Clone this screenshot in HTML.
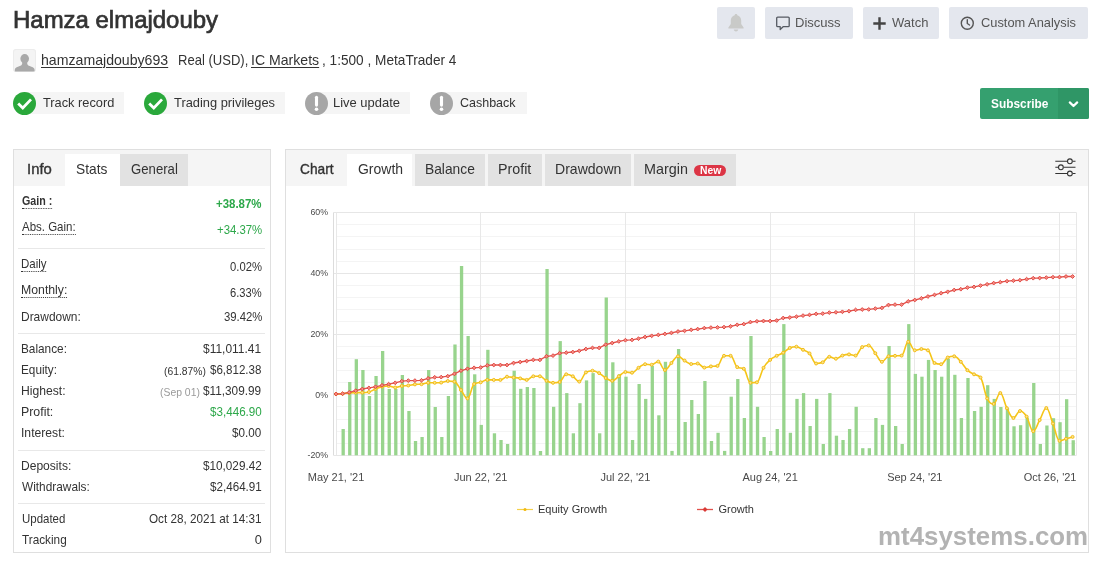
<!DOCTYPE html>
<html lang="en">
<head>
<meta charset="utf-8">
<title>Hamza elmajdouby</title>
<style>
html,body{margin:0;padding:0;background:#fff;}
body{width:1101px;height:561px;position:relative;overflow:hidden;font-family:"Liberation Sans",sans-serif;color:#333;}
.abs{position:absolute;white-space:nowrap;}
.t{position:absolute;white-space:nowrap;line-height:normal;margin:0;padding:0;transform-origin:0 0;}
.ul{text-decoration:underline;text-decoration-thickness:1px;text-underline-offset:2px;}
.dot{border-bottom:1px dotted #333;}
.avatar{position:absolute;left:13px;top:49px;width:23px;height:23px;background:#f4f4f4;border-radius:3px;overflow:hidden;box-shadow:inset 0 0 0 1px #ececec;}
.badge{position:absolute;top:92.2px;height:22.2px;background:#f5f5f5;}
.ic{position:absolute;top:91.7px;width:23px;height:23px;border-radius:50%;}
.btn{position:absolute;top:7px;height:31.5px;background:#e4e7ee;border-radius:2px;}
.panel{position:absolute;border:1px solid #dfdfdf;background:#fff;box-sizing:border-box;}
.thead{position:absolute;left:0;top:0;right:0;height:36px;background:#f5f5f5;}
.tab{position:absolute;top:154px;height:32px;}
.tab.g{background:#e2e2e2;}
.tab.w{background:#fff;}
.sep{position:absolute;left:18px;width:247px;height:1px;background:#e8e8e8;}
.yl{font-family:"Liberation Sans",sans-serif;font-size:8.8px;fill:#4a4a4a;}
.xl{font-family:"Liberation Sans",sans-serif;font-size:11px;fill:#4a4a4a;}
</style>
</head>
<body>

<div class="avatar">
<svg width="23" height="23" viewBox="0 0 23 23"><ellipse cx="11.700" cy="9.800" rx="4.300" ry="4.700" fill="#a9a9a9"/><path d="M1.800 22.600v-1.600c0-1.800 1.200-2.400 3.200-3.200c2.600-1 4.200-1.400 4.200-3.200v-1.600h5v1.600c0 1.800 1.600 2.200 4.200 3.200c2 0.800 3.200 1.400 3.200 3.200v1.600z" fill="#a9a9a9"/></svg>
</div>

<!-- badges -->
<div class="badge" style="left:24px;width:99.500px;"></div>
<div class="badge" style="left:155px;width:130px;"></div>
<div class="badge" style="left:316px;width:94.300px;"></div>
<div class="badge" style="left:441px;width:85.800px;"></div>
<div class="ic" style="left:13.200px;background:#2aa83b"><svg width="23" height="23" viewBox="0 0 23 23"><path d="M5.200 11.400l4.600 4.600l8.200-8.600" fill="none" stroke="#fff" stroke-width="2.800" stroke-linecap="butt" stroke-linejoin="miter"/></svg></div>
<div class="ic" style="left:144.200px;background:#2aa83b"><svg width="23" height="23" viewBox="0 0 23 23"><path d="M5.200 11.400l4.600 4.600l8.200-8.600" fill="none" stroke="#fff" stroke-width="2.800" stroke-linecap="butt" stroke-linejoin="miter"/></svg></div>
<div class="ic" style="left:305px;background:#a6a6a6"><svg width="23" height="23" viewBox="0 0 23 23"><path d="M11.500 5.300v7.800" stroke="#fff" stroke-width="3.100" stroke-linecap="round"/><circle cx="11.500" cy="17.300" r="1.800" fill="#fff"/></svg></div>
<div class="ic" style="left:430px;background:#a6a6a6"><svg width="23" height="23" viewBox="0 0 23 23"><path d="M11.500 5.300v7.800" stroke="#fff" stroke-width="3.100" stroke-linecap="round"/><circle cx="11.500" cy="17.300" r="1.800" fill="#fff"/></svg></div>

<!-- top buttons -->
<div class="btn" style="left:717.300px;width:37.500px;"><svg class="abs" style="left:9.500px;top:5.500px" width="18" height="20" viewBox="0 0 18 20"><path d="M9 1c-0.800 0-1.300 0.500-1.300 1.200c-2.500 0.600-3.900 2.700-3.900 5.300v3.500l-2.400 3.600v0.900h15.200v-0.900l-2.400-3.600v-3.500c0-2.600-1.400-4.700-3.900-5.300c0-0.700-0.500-1.200-1.300-1.200z" fill="#c9cac8"/><path d="M6.800 16.600h4.400c0 1.100-0.900 1.900-2.200 1.900s-2.200-0.800-2.200-1.900z" fill="#c9cac8"/></svg></div>
<div class="btn" style="left:765px;width:88px;"><svg class="abs" style="left:10.300px;top:8.800px" width="16" height="15" viewBox="0 0 16 15"><path d="M2.700 1.100h10.500a1 1 0 0 1 1 1v7.600a1 1 0 0 1-1 1h-5.100l-2.900 2.800v-2.800h-2.500a1 1 0 0 1-1-1v-7.600a1 1 0 0 1 1-1z" fill="none" stroke="#555a62" stroke-width="1.300" stroke-linejoin="round"/></svg></div>
<div class="btn" style="left:863px;width:75.800px;"><svg class="abs" style="left:10px;top:9.600px" width="13" height="13" viewBox="0 0 13 13"><path d="M6.500 0.300v12.400M0.300 6.500h12.400" stroke="#444" stroke-width="2.400"/></svg></div>
<div class="btn" style="left:949px;width:138.700px;"><svg class="abs" style="left:11px;top:8.700px" width="15" height="15" viewBox="0 0 15 15"><circle cx="7.300" cy="7.300" r="6" fill="none" stroke="#555" stroke-width="1.400"/><path d="M7.300 3.800v3.700l2.200 1.500" fill="none" stroke="#555" stroke-width="1.400" stroke-linecap="round"/></svg></div>

<!-- subscribe -->
<div class="abs" style="left:980px;top:88px;width:108.700px;height:30.800px;background:#35a06f;border-radius:2px;overflow:hidden;">
  <div class="abs" style="left:78px;top:0;width:31px;height:31px;background:#2f9666;"></div>
  <svg class="abs" style="left:87px;top:11.500px" width="13" height="9" viewBox="0 0 13 9"><path d="M2.800 2.400l3.700 3.600l3.700-3.600" fill="none" stroke="#fff" stroke-width="2.200" stroke-linecap="round" stroke-linejoin="round"/></svg>
</div>

<!-- left panel -->
<div class="panel" style="left:13px;top:149px;width:258px;height:404px;"><div class="thead"></div></div>
<div class="tab w" style="left:65px;width:55px;"></div>
<div class="tab g" style="left:120px;width:68px;"></div>
<div class="sep" style="top:248px"></div>
<div class="sep" style="top:333px"></div>
<div class="sep" style="top:450px"></div>
<div class="sep" style="top:503px"></div>

<!-- right panel -->
<div class="panel" style="left:285px;top:149px;width:804px;height:404px;"><div class="thead"></div></div>
<div class="tab w" style="left:346.800px;width:65.600px;"></div>
<div class="tab g" style="left:415px;width:70.300px;"></div>
<div class="tab g" style="left:488px;width:54.100px;"></div>
<div class="tab g" style="left:545.200px;width:85.800px;"></div>
<div class="tab g" style="left:634.100px;width:101.800px;"></div>
<div class="abs" style="left:694.100px;top:164.900px;width:32px;height:11px;border-radius:5.500px;background:#dc3545;"></div>
<svg class="abs" style="left:1054px;top:157px" width="23" height="21" viewBox="0 0 23 21"><g fill="none" stroke="#333" stroke-width="1.100"><path d="M1.300 4.300h11.700M18.800 4.300h2.700M1.300 10.300h2.700M9.800 10.300h11.700M1.300 16.500h11.700M18.800 16.500h2.700"/><circle cx="15.900" cy="4.300" r="2.400"/><circle cx="6.900" cy="10.300" r="2.400"/><circle cx="15.900" cy="16.500" r="2.400"/></g></svg>

<svg class="abs" style="left:0;top:0;pointer-events:none" width="1101" height="561" viewBox="0 0 1101 561">
<line x1="333.5" x2="1076.5" y1="455.5" y2="455.5" stroke="#e6e6e6" stroke-width="1"/>
<line x1="336.5" x2="1076.5" y1="443.5" y2="443.5" stroke="#f4f4f4" stroke-width="1"/>
<line x1="336.5" x2="1076.5" y1="431.5" y2="431.5" stroke="#f4f4f4" stroke-width="1"/>
<line x1="336.5" x2="1076.5" y1="419.5" y2="419.5" stroke="#f4f4f4" stroke-width="1"/>
<line x1="336.5" x2="1076.5" y1="406.5" y2="406.5" stroke="#f4f4f4" stroke-width="1"/>
<line x1="333.5" x2="1076.5" y1="394.5" y2="394.5" stroke="#e6e6e6" stroke-width="1"/>
<line x1="336.5" x2="1076.5" y1="382.5" y2="382.5" stroke="#f4f4f4" stroke-width="1"/>
<line x1="336.5" x2="1076.5" y1="370.5" y2="370.5" stroke="#f4f4f4" stroke-width="1"/>
<line x1="336.5" x2="1076.5" y1="358.5" y2="358.5" stroke="#f4f4f4" stroke-width="1"/>
<line x1="336.5" x2="1076.5" y1="346.5" y2="346.5" stroke="#f4f4f4" stroke-width="1"/>
<line x1="333.5" x2="1076.5" y1="334.5" y2="334.5" stroke="#e6e6e6" stroke-width="1"/>
<line x1="336.5" x2="1076.5" y1="321.5" y2="321.5" stroke="#f4f4f4" stroke-width="1"/>
<line x1="336.5" x2="1076.5" y1="309.5" y2="309.5" stroke="#f4f4f4" stroke-width="1"/>
<line x1="336.5" x2="1076.5" y1="297.5" y2="297.5" stroke="#f4f4f4" stroke-width="1"/>
<line x1="336.5" x2="1076.5" y1="285.5" y2="285.5" stroke="#f4f4f4" stroke-width="1"/>
<line x1="333.5" x2="1076.5" y1="273.5" y2="273.5" stroke="#e6e6e6" stroke-width="1"/>
<line x1="336.5" x2="1076.5" y1="261.5" y2="261.5" stroke="#f4f4f4" stroke-width="1"/>
<line x1="336.5" x2="1076.5" y1="249.5" y2="249.5" stroke="#f4f4f4" stroke-width="1"/>
<line x1="336.5" x2="1076.5" y1="236.5" y2="236.5" stroke="#f4f4f4" stroke-width="1"/>
<line x1="336.5" x2="1076.5" y1="224.5" y2="224.5" stroke="#f4f4f4" stroke-width="1"/>
<line x1="333.5" x2="1076.5" y1="212.5" y2="212.5" stroke="#e6e6e6" stroke-width="1"/>
<line x1="336.5" x2="336.5" y1="212.5" y2="455.3" stroke="#e8e8e8" stroke-width="1"/>
<line x1="480.5" x2="480.5" y1="212.5" y2="455.3" stroke="#e8e8e8" stroke-width="1"/>
<line x1="625.5" x2="625.5" y1="212.5" y2="455.3" stroke="#e8e8e8" stroke-width="1"/>
<line x1="770.5" x2="770.5" y1="212.5" y2="455.3" stroke="#e8e8e8" stroke-width="1"/>
<line x1="914.5" x2="914.5" y1="212.5" y2="455.3" stroke="#e8e8e8" stroke-width="1"/>
<line x1="1059.5" x2="1059.5" y1="212.5" y2="455.3" stroke="#e8e8e8" stroke-width="1"/>
<line x1="333.5" x2="333.5" y1="212.5" y2="455.3" stroke="#dcdcdc" stroke-width="1"/>
<line x1="1076.5" x2="1076.5" y1="212.5" y2="455.3" stroke="#e8e8e8" stroke-width="1"/>
<g fill="#8fd083" fill-opacity="0.92"><rect x="341.53" y="429.0" width="3.3" height="26.3"/><rect x="348.10" y="382.0" width="3.3" height="73.3"/><rect x="354.68" y="359.2" width="3.3" height="96.1"/><rect x="361.26" y="370.0" width="3.3" height="85.3"/><rect x="367.83" y="396.0" width="3.3" height="59.3"/><rect x="374.41" y="376.0" width="3.3" height="79.3"/><rect x="380.99" y="351.0" width="3.3" height="104.3"/><rect x="387.57" y="389.0" width="3.3" height="66.3"/><rect x="394.14" y="389.0" width="3.3" height="66.3"/><rect x="400.72" y="375.0" width="3.3" height="80.3"/><rect x="407.30" y="411.0" width="3.3" height="44.3"/><rect x="413.87" y="441.0" width="3.3" height="14.3"/><rect x="420.45" y="437.0" width="3.3" height="18.3"/><rect x="427.03" y="370.0" width="3.3" height="85.3"/><rect x="433.60" y="407.0" width="3.3" height="48.3"/><rect x="440.18" y="437.0" width="3.3" height="18.3"/><rect x="446.76" y="396.0" width="3.3" height="59.3"/><rect x="453.34" y="344.5" width="3.3" height="110.8"/><rect x="459.91" y="266.0" width="3.3" height="189.3"/><rect x="466.49" y="336.0" width="3.3" height="119.3"/><rect x="473.07" y="374.3" width="3.3" height="81.0"/><rect x="479.64" y="424.9" width="3.3" height="30.4"/><rect x="486.22" y="349.8" width="3.3" height="105.5"/><rect x="492.80" y="433.3" width="3.3" height="22.0"/><rect x="499.38" y="440.0" width="3.3" height="15.3"/><rect x="505.95" y="444.0" width="3.3" height="11.3"/><rect x="512.53" y="370.7" width="3.3" height="84.6"/><rect x="519.11" y="388.8" width="3.3" height="66.5"/><rect x="525.68" y="387.0" width="3.3" height="68.3"/><rect x="532.26" y="388.0" width="3.3" height="67.3"/><rect x="538.84" y="451.0" width="3.3" height="4.3"/><rect x="545.41" y="269.0" width="3.3" height="186.3"/><rect x="551.99" y="406.8" width="3.3" height="48.5"/><rect x="558.57" y="341.1" width="3.3" height="114.2"/><rect x="565.14" y="393.1" width="3.3" height="62.2"/><rect x="571.72" y="433.3" width="3.3" height="22.0"/><rect x="578.30" y="403.2" width="3.3" height="52.1"/><rect x="584.88" y="380.4" width="3.3" height="74.9"/><rect x="591.45" y="373.1" width="3.3" height="82.2"/><rect x="598.03" y="433.3" width="3.3" height="22.0"/><rect x="604.61" y="297.5" width="3.3" height="157.8"/><rect x="611.18" y="362.3" width="3.3" height="93.0"/><rect x="617.76" y="374.3" width="3.3" height="81.0"/><rect x="624.34" y="376.7" width="3.3" height="78.6"/><rect x="630.91" y="440.0" width="3.3" height="15.3"/><rect x="637.49" y="384.0" width="3.3" height="71.3"/><rect x="644.07" y="398.9" width="3.3" height="56.4"/><rect x="650.65" y="365.9" width="3.3" height="89.4"/><rect x="657.22" y="415.3" width="3.3" height="40.0"/><rect x="663.80" y="361.8" width="3.3" height="93.5"/><rect x="670.38" y="450.9" width="3.3" height="4.4"/><rect x="676.95" y="349.0" width="3.3" height="106.3"/><rect x="683.53" y="422.0" width="3.3" height="33.3"/><rect x="690.11" y="400.0" width="3.3" height="55.3"/><rect x="696.69" y="414.0" width="3.3" height="41.3"/><rect x="703.26" y="381.0" width="3.3" height="74.3"/><rect x="709.84" y="441.0" width="3.3" height="14.3"/><rect x="716.42" y="432.8" width="3.3" height="22.5"/><rect x="722.99" y="450.9" width="3.3" height="4.4"/><rect x="729.57" y="396.7" width="3.3" height="58.6"/><rect x="736.15" y="379.0" width="3.3" height="76.3"/><rect x="742.72" y="418.0" width="3.3" height="37.3"/><rect x="749.30" y="336.0" width="3.3" height="119.3"/><rect x="755.88" y="406.8" width="3.3" height="48.5"/><rect x="762.46" y="437.0" width="3.3" height="18.3"/><rect x="769.03" y="451.0" width="3.3" height="4.3"/><rect x="775.61" y="429.0" width="3.3" height="26.3"/><rect x="782.19" y="324.1" width="3.3" height="131.2"/><rect x="788.76" y="432.8" width="3.3" height="22.5"/><rect x="795.34" y="398.9" width="3.3" height="56.4"/><rect x="801.92" y="393.1" width="3.3" height="62.2"/><rect x="808.49" y="426.0" width="3.3" height="29.3"/><rect x="815.07" y="398.9" width="3.3" height="56.4"/><rect x="821.65" y="444.0" width="3.3" height="11.3"/><rect x="828.23" y="393.1" width="3.3" height="62.2"/><rect x="834.80" y="435.7" width="3.3" height="19.6"/><rect x="841.38" y="440.0" width="3.3" height="15.3"/><rect x="847.96" y="429.0" width="3.3" height="26.3"/><rect x="854.53" y="406.8" width="3.3" height="48.5"/><rect x="861.11" y="448.2" width="3.3" height="7.1"/><rect x="867.69" y="448.2" width="3.3" height="7.1"/><rect x="874.26" y="418.0" width="3.3" height="37.3"/><rect x="880.84" y="424.9" width="3.3" height="30.4"/><rect x="887.42" y="346.0" width="3.3" height="109.3"/><rect x="894.00" y="426.0" width="3.3" height="29.3"/><rect x="900.57" y="444.0" width="3.3" height="11.3"/><rect x="907.15" y="324.1" width="3.3" height="131.2"/><rect x="913.73" y="373.9" width="3.3" height="81.4"/><rect x="920.30" y="376.7" width="3.3" height="78.6"/><rect x="926.88" y="359.9" width="3.3" height="95.4"/><rect x="933.46" y="370.0" width="3.3" height="85.3"/><rect x="940.03" y="376.7" width="3.3" height="78.6"/><rect x="946.61" y="358.7" width="3.3" height="96.6"/><rect x="953.19" y="374.8" width="3.3" height="80.5"/><rect x="959.76" y="418.0" width="3.3" height="37.3"/><rect x="966.34" y="378.0" width="3.3" height="77.3"/><rect x="972.92" y="411.0" width="3.3" height="44.3"/><rect x="979.50" y="406.8" width="3.3" height="48.5"/><rect x="986.07" y="385.2" width="3.3" height="70.1"/><rect x="992.65" y="398.9" width="3.3" height="56.4"/><rect x="999.23" y="407.0" width="3.3" height="48.3"/><rect x="1005.80" y="408.0" width="3.3" height="47.3"/><rect x="1012.38" y="426.3" width="3.3" height="29.0"/><rect x="1018.96" y="425.2" width="3.3" height="30.1"/><rect x="1025.54" y="417.5" width="3.3" height="37.8"/><rect x="1032.11" y="383.0" width="3.3" height="72.3"/><rect x="1038.69" y="444.0" width="3.3" height="11.3"/><rect x="1045.27" y="425.5" width="3.3" height="29.8"/><rect x="1051.84" y="418.2" width="3.3" height="37.1"/><rect x="1058.42" y="422.2" width="3.3" height="33.1"/><rect x="1065.00" y="399.2" width="3.3" height="56.1"/><rect x="1071.57" y="440.2" width="3.3" height="15.1"/></g>
<path d="M336.0 394.0C336.0 394.0 339.9 393.9 342.6 393.7C345.2 393.5 346.5 393.1 349.2 392.9C351.8 392.7 353.1 392.6 355.7 392.6C358.4 392.6 359.7 392.6 362.3 392.6C364.9 392.6 366.3 392.6 368.9 392.0C371.5 391.4 372.8 390.1 375.5 389.0C378.1 387.9 379.4 387.2 382.0 386.6C384.7 386.0 386.0 386.0 388.6 386.0C391.2 386.0 392.6 387.5 395.2 387.5C397.8 387.5 399.1 386.4 401.8 386.0C404.4 385.6 405.7 385.8 408.3 385.5C411.0 385.2 412.3 384.6 414.9 384.4C417.6 384.2 418.9 384.4 421.5 384.2C424.1 384.0 425.4 382.8 428.1 382.8C430.7 382.8 432.0 382.8 434.7 382.8C437.3 382.8 438.6 382.8 441.2 382.6C443.9 382.4 445.2 381.0 447.8 381.0C450.4 381.0 451.8 381.0 454.4 381.6C457.0 382.2 458.3 386.6 461.0 390.0C463.6 393.4 464.9 398.4 467.5 398.4C470.2 398.4 471.5 385.7 474.1 384.0C476.7 382.3 478.1 383.1 480.7 382.3C483.3 381.5 484.6 379.9 487.3 379.9C489.9 379.9 491.2 379.9 493.8 379.9C496.5 379.9 497.8 379.9 500.4 379.9C503.1 379.9 504.4 376.7 507.0 376.7C509.6 376.7 510.9 377.2 513.6 377.5C516.2 377.8 517.5 377.9 520.2 378.4C522.8 378.9 524.1 379.9 526.7 379.9C529.4 379.9 530.7 376.3 533.3 376.3C535.9 376.3 537.3 376.3 539.9 376.3C542.5 376.3 543.8 379.5 546.5 380.8C549.1 382.1 550.4 382.8 553.0 382.8C555.7 382.8 557.0 382.8 559.6 382.0C562.2 381.2 563.6 374.3 566.2 374.3C568.8 374.3 570.1 374.8 572.8 376.3C575.4 377.8 576.7 381.6 579.3 381.6C582.0 381.6 583.3 374.1 585.9 372.4C588.6 370.7 589.9 370.7 592.5 370.7C595.1 370.7 596.4 371.6 599.1 373.1C601.7 374.6 603.0 376.5 605.7 378.0C608.3 379.5 609.6 380.8 612.2 380.8C614.9 380.8 616.2 378.1 618.8 376.3C621.4 374.5 622.8 372.0 625.4 372.0C628.0 372.0 629.3 372.7 632.0 372.7C634.6 372.7 635.9 369.5 638.5 367.8C641.2 366.1 642.5 364.2 645.1 364.2C647.7 364.2 649.1 364.7 651.7 364.7C654.3 364.7 655.6 361.6 658.3 361.6C660.9 361.6 662.2 370.0 664.9 370.0C667.5 370.0 668.8 365.7 671.4 363.0C674.1 360.3 675.4 356.3 678.0 356.3C680.6 356.3 682.0 359.1 684.6 360.6C687.2 362.1 688.5 364.0 691.2 364.0C693.8 364.0 695.1 363.5 697.7 363.5C700.4 363.5 701.7 367.6 704.3 367.6C706.9 367.6 708.3 366.7 710.9 366.4C713.5 366.1 714.8 366.4 717.5 365.9C720.1 365.4 721.4 355.8 724.0 355.8C726.7 355.8 728.0 355.8 730.6 355.8C733.3 355.8 734.6 365.4 737.2 367.1C739.8 368.8 741.1 367.1 743.8 368.8C746.4 370.5 747.7 382.8 750.4 382.8C753.0 382.8 754.3 382.8 756.9 382.3C759.6 381.8 760.9 372.3 763.5 367.8C766.1 363.3 767.5 362.3 770.1 359.9C772.7 357.5 774.0 357.2 776.7 355.8C779.3 354.4 780.6 354.3 783.2 352.7C785.9 351.1 787.2 349.1 789.8 347.9C792.4 346.7 793.8 346.7 796.4 346.7C799.0 346.7 800.3 348.5 803.0 349.8C805.6 351.1 806.9 350.7 809.5 353.4C812.2 356.1 813.5 363.5 816.1 363.5C818.8 363.5 820.1 363.5 822.7 362.3C825.3 361.1 826.6 356.8 829.3 356.8C831.9 356.8 833.2 358.7 835.9 358.7C838.5 358.7 839.8 356.5 842.4 355.6C845.1 354.7 846.4 354.4 849.0 354.4C851.6 354.4 853.0 355.6 855.6 355.6C858.2 355.6 859.5 348.7 862.2 347.1C864.8 345.5 866.1 345.5 868.7 345.5C871.4 345.5 872.7 349.9 875.3 353.2C877.9 356.5 879.3 361.8 881.9 361.8C884.5 361.8 885.8 356.8 888.5 356.3C891.1 355.8 892.4 355.9 895.0 355.8C897.7 355.7 899.0 355.8 901.6 355.6C904.3 355.4 905.6 341.8 908.2 341.8C910.8 341.8 912.1 350.3 914.8 350.3C917.4 350.3 918.7 349.0 921.4 349.0C924.0 349.0 925.3 349.0 927.9 350.3C930.6 351.6 931.9 361.8 934.5 363.0C937.1 364.2 938.5 364.2 941.1 364.2C943.7 364.2 945.0 358.7 947.7 357.5C950.3 356.3 951.6 356.3 954.2 356.3C956.9 356.3 958.2 359.0 960.8 361.8C963.4 364.6 964.8 367.7 967.4 370.2C970.0 372.7 971.3 372.8 974.0 374.3C976.6 375.8 977.9 374.3 980.5 377.5C983.2 380.7 984.5 393.1 987.1 398.4C989.8 403.7 991.1 403.9 993.7 403.9C996.3 403.9 997.6 393.0 1000.3 393.0C1002.9 393.0 1004.2 403.2 1006.9 408.2C1009.5 413.2 1010.8 418.0 1013.4 418.0C1016.1 418.0 1017.4 411.0 1020.0 411.0C1022.6 411.0 1024.0 412.6 1026.6 416.6C1029.2 420.6 1030.5 431.2 1033.2 431.2C1035.8 431.2 1037.1 424.6 1039.7 420.0C1042.4 415.4 1043.7 408.0 1046.3 408.0C1048.9 408.0 1050.3 416.9 1052.9 423.5C1055.5 430.1 1056.8 440.8 1059.5 440.8C1062.1 440.8 1063.4 439.6 1066.0 438.8C1068.7 438.0 1072.6 436.9 1072.6 436.9" fill="none" stroke="#f5c518" stroke-width="1.6" stroke-linejoin="round"/>
<g fill="#fbe38a" stroke="#f2b90f" stroke-width="0.9"><circle cx="336.0" cy="394.0" r="1.5"/><circle cx="342.6" cy="393.7" r="1.5"/><circle cx="349.2" cy="392.9" r="1.5"/><circle cx="355.7" cy="392.6" r="1.5"/><circle cx="362.3" cy="392.6" r="1.5"/><circle cx="368.9" cy="392.0" r="1.5"/><circle cx="375.5" cy="389.0" r="1.5"/><circle cx="382.0" cy="386.6" r="1.5"/><circle cx="388.6" cy="386.0" r="1.5"/><circle cx="395.2" cy="387.5" r="1.5"/><circle cx="401.8" cy="386.0" r="1.5"/><circle cx="408.3" cy="385.5" r="1.5"/><circle cx="414.9" cy="384.4" r="1.5"/><circle cx="421.5" cy="384.2" r="1.5"/><circle cx="428.1" cy="382.8" r="1.5"/><circle cx="434.7" cy="382.8" r="1.5"/><circle cx="441.2" cy="382.6" r="1.5"/><circle cx="447.8" cy="381.0" r="1.5"/><circle cx="454.4" cy="381.6" r="1.5"/><circle cx="461.0" cy="390.0" r="1.5"/><circle cx="467.5" cy="398.4" r="1.5"/><circle cx="474.1" cy="384.0" r="1.5"/><circle cx="480.7" cy="382.3" r="1.5"/><circle cx="487.3" cy="379.9" r="1.5"/><circle cx="493.8" cy="379.9" r="1.5"/><circle cx="500.4" cy="379.9" r="1.5"/><circle cx="507.0" cy="376.7" r="1.5"/><circle cx="513.6" cy="377.5" r="1.5"/><circle cx="520.2" cy="378.4" r="1.5"/><circle cx="526.7" cy="379.9" r="1.5"/><circle cx="533.3" cy="376.3" r="1.5"/><circle cx="539.9" cy="376.3" r="1.5"/><circle cx="546.5" cy="380.8" r="1.5"/><circle cx="553.0" cy="382.8" r="1.5"/><circle cx="559.6" cy="382.0" r="1.5"/><circle cx="566.2" cy="374.3" r="1.5"/><circle cx="572.8" cy="376.3" r="1.5"/><circle cx="579.3" cy="381.6" r="1.5"/><circle cx="585.9" cy="372.4" r="1.5"/><circle cx="592.5" cy="370.7" r="1.5"/><circle cx="599.1" cy="373.1" r="1.5"/><circle cx="605.7" cy="378.0" r="1.5"/><circle cx="612.2" cy="380.8" r="1.5"/><circle cx="618.8" cy="376.3" r="1.5"/><circle cx="625.4" cy="372.0" r="1.5"/><circle cx="632.0" cy="372.7" r="1.5"/><circle cx="638.5" cy="367.8" r="1.5"/><circle cx="645.1" cy="364.2" r="1.5"/><circle cx="651.7" cy="364.7" r="1.5"/><circle cx="658.3" cy="361.6" r="1.5"/><circle cx="664.9" cy="370.0" r="1.5"/><circle cx="671.4" cy="363.0" r="1.5"/><circle cx="678.0" cy="356.3" r="1.5"/><circle cx="684.6" cy="360.6" r="1.5"/><circle cx="691.2" cy="364.0" r="1.5"/><circle cx="697.7" cy="363.5" r="1.5"/><circle cx="704.3" cy="367.6" r="1.5"/><circle cx="710.9" cy="366.4" r="1.5"/><circle cx="717.5" cy="365.9" r="1.5"/><circle cx="724.0" cy="355.8" r="1.5"/><circle cx="730.6" cy="355.8" r="1.5"/><circle cx="737.2" cy="367.1" r="1.5"/><circle cx="743.8" cy="368.8" r="1.5"/><circle cx="750.4" cy="382.8" r="1.5"/><circle cx="756.9" cy="382.3" r="1.5"/><circle cx="763.5" cy="367.8" r="1.5"/><circle cx="770.1" cy="359.9" r="1.5"/><circle cx="776.7" cy="355.8" r="1.5"/><circle cx="783.2" cy="352.7" r="1.5"/><circle cx="789.8" cy="347.9" r="1.5"/><circle cx="796.4" cy="346.7" r="1.5"/><circle cx="803.0" cy="349.8" r="1.5"/><circle cx="809.5" cy="353.4" r="1.5"/><circle cx="816.1" cy="363.5" r="1.5"/><circle cx="822.7" cy="362.3" r="1.5"/><circle cx="829.3" cy="356.8" r="1.5"/><circle cx="835.9" cy="358.7" r="1.5"/><circle cx="842.4" cy="355.6" r="1.5"/><circle cx="849.0" cy="354.4" r="1.5"/><circle cx="855.6" cy="355.6" r="1.5"/><circle cx="862.2" cy="347.1" r="1.5"/><circle cx="868.7" cy="345.5" r="1.5"/><circle cx="875.3" cy="353.2" r="1.5"/><circle cx="881.9" cy="361.8" r="1.5"/><circle cx="888.5" cy="356.3" r="1.5"/><circle cx="895.0" cy="355.8" r="1.5"/><circle cx="901.6" cy="355.6" r="1.5"/><circle cx="908.2" cy="341.8" r="1.5"/><circle cx="914.8" cy="350.3" r="1.5"/><circle cx="921.4" cy="349.0" r="1.5"/><circle cx="927.9" cy="350.3" r="1.5"/><circle cx="934.5" cy="363.0" r="1.5"/><circle cx="941.1" cy="364.2" r="1.5"/><circle cx="947.7" cy="357.5" r="1.5"/><circle cx="954.2" cy="356.3" r="1.5"/><circle cx="960.8" cy="361.8" r="1.5"/><circle cx="967.4" cy="370.2" r="1.5"/><circle cx="974.0" cy="374.3" r="1.5"/><circle cx="980.5" cy="377.5" r="1.5"/><circle cx="987.1" cy="398.4" r="1.5"/><circle cx="993.7" cy="403.9" r="1.5"/><circle cx="1000.3" cy="393.0" r="1.5"/><circle cx="1006.9" cy="408.2" r="1.5"/><circle cx="1013.4" cy="418.0" r="1.5"/><circle cx="1020.0" cy="411.0" r="1.5"/><circle cx="1026.6" cy="416.6" r="1.5"/><circle cx="1033.2" cy="431.2" r="1.5"/><circle cx="1039.7" cy="420.0" r="1.5"/><circle cx="1046.3" cy="408.0" r="1.5"/><circle cx="1052.9" cy="423.5" r="1.5"/><circle cx="1059.5" cy="440.8" r="1.5"/><circle cx="1066.0" cy="438.8" r="1.5"/><circle cx="1072.6" cy="436.9" r="1.5"/></g>
<polyline points="336.0,394.0 342.6,393.7 349.2,392.4 355.7,390.7 362.3,389.0 368.9,387.9 375.5,386.8 382.0,385.3 388.6,384.2 395.2,382.8 401.8,381.2 408.3,380.6 414.9,380.6 421.5,380.3 428.1,378.4 434.7,377.3 441.2,377.1 447.8,376.2 454.4,373.9 461.0,370.7 467.5,368.8 474.1,367.8 480.7,367.4 487.3,365.4 493.8,365.0 500.4,365.0 507.0,365.0 513.6,363.0 520.2,362.0 526.7,361.0 533.3,359.9 539.9,359.9 546.5,356.3 553.0,355.6 559.6,353.2 566.2,352.7 572.8,352.0 579.3,350.8 585.9,349.0 592.5,347.9 599.1,347.9 605.7,344.7 612.2,343.0 618.8,341.4 625.4,340.2 632.0,339.9 638.5,338.7 645.1,337.0 651.7,335.8 658.3,334.9 664.9,333.9 671.4,332.9 678.0,331.5 684.6,330.8 691.2,329.8 697.7,329.1 704.3,328.1 710.9,327.6 717.5,327.4 724.0,327.1 730.6,326.3 737.2,324.8 743.8,324.1 750.4,322.1 756.9,321.3 763.5,321.0 770.1,321.0 776.7,320.5 783.2,318.0 789.8,317.5 796.4,316.7 803.0,315.6 809.5,314.9 816.1,313.9 822.7,313.6 829.3,312.6 835.9,312.3 842.4,311.8 849.0,311.2 855.6,309.9 862.2,309.5 868.7,309.4 875.3,308.6 881.9,307.9 888.5,305.0 895.0,304.6 901.6,304.6 908.2,301.4 914.8,300.0 921.4,298.3 927.9,296.5 934.5,294.9 941.1,293.2 947.7,291.8 954.2,290.0 960.8,289.2 967.4,287.6 974.0,286.9 980.5,285.6 987.1,284.3 993.7,283.1 1000.3,282.2 1006.9,281.2 1013.4,280.7 1020.0,280.2 1026.6,279.2 1033.2,278.2 1039.7,278.0 1046.3,277.6 1052.9,277.2 1059.5,277.1 1066.0,276.5 1072.6,276.5" fill="none" stroke="#e2514b" stroke-width="1.3" stroke-linejoin="round"/>
<g fill="#f58d85" stroke="#de3f3a" stroke-width="0.9"><path d="M336.0 392.1l1.9 1.9l-1.9 1.9l-1.9-1.9z"/><path d="M342.6 391.8l1.9 1.9l-1.9 1.9l-1.9-1.9z"/><path d="M349.2 390.5l1.9 1.9l-1.9 1.9l-1.9-1.9z"/><path d="M355.7 388.8l1.9 1.9l-1.9 1.9l-1.9-1.9z"/><path d="M362.3 387.1l1.9 1.9l-1.9 1.9l-1.9-1.9z"/><path d="M368.9 386.0l1.9 1.9l-1.9 1.9l-1.9-1.9z"/><path d="M375.5 384.9l1.9 1.9l-1.9 1.9l-1.9-1.9z"/><path d="M382.0 383.4l1.9 1.9l-1.9 1.9l-1.9-1.9z"/><path d="M388.6 382.3l1.9 1.9l-1.9 1.9l-1.9-1.9z"/><path d="M395.2 380.9l1.9 1.9l-1.9 1.9l-1.9-1.9z"/><path d="M401.8 379.3l1.9 1.9l-1.9 1.9l-1.9-1.9z"/><path d="M408.3 378.7l1.9 1.9l-1.9 1.9l-1.9-1.9z"/><path d="M414.9 378.7l1.9 1.9l-1.9 1.9l-1.9-1.9z"/><path d="M421.5 378.4l1.9 1.9l-1.9 1.9l-1.9-1.9z"/><path d="M428.1 376.5l1.9 1.9l-1.9 1.9l-1.9-1.9z"/><path d="M434.7 375.4l1.9 1.9l-1.9 1.9l-1.9-1.9z"/><path d="M441.2 375.2l1.9 1.9l-1.9 1.9l-1.9-1.9z"/><path d="M447.8 374.3l1.9 1.9l-1.9 1.9l-1.9-1.9z"/><path d="M454.4 372.0l1.9 1.9l-1.9 1.9l-1.9-1.9z"/><path d="M461.0 368.8l1.9 1.9l-1.9 1.9l-1.9-1.9z"/><path d="M467.5 366.9l1.9 1.9l-1.9 1.9l-1.9-1.9z"/><path d="M474.1 365.9l1.9 1.9l-1.9 1.9l-1.9-1.9z"/><path d="M480.7 365.5l1.9 1.9l-1.9 1.9l-1.9-1.9z"/><path d="M487.3 363.5l1.9 1.9l-1.9 1.9l-1.9-1.9z"/><path d="M493.8 363.1l1.9 1.9l-1.9 1.9l-1.9-1.9z"/><path d="M500.4 363.1l1.9 1.9l-1.9 1.9l-1.9-1.9z"/><path d="M507.0 363.1l1.9 1.9l-1.9 1.9l-1.9-1.9z"/><path d="M513.6 361.1l1.9 1.9l-1.9 1.9l-1.9-1.9z"/><path d="M520.2 360.1l1.9 1.9l-1.9 1.9l-1.9-1.9z"/><path d="M526.7 359.1l1.9 1.9l-1.9 1.9l-1.9-1.9z"/><path d="M533.3 358.0l1.9 1.9l-1.9 1.9l-1.9-1.9z"/><path d="M539.9 358.0l1.9 1.9l-1.9 1.9l-1.9-1.9z"/><path d="M546.5 354.4l1.9 1.9l-1.9 1.9l-1.9-1.9z"/><path d="M553.0 353.7l1.9 1.9l-1.9 1.9l-1.9-1.9z"/><path d="M559.6 351.3l1.9 1.9l-1.9 1.9l-1.9-1.9z"/><path d="M566.2 350.8l1.9 1.9l-1.9 1.9l-1.9-1.9z"/><path d="M572.8 350.1l1.9 1.9l-1.9 1.9l-1.9-1.9z"/><path d="M579.3 348.9l1.9 1.9l-1.9 1.9l-1.9-1.9z"/><path d="M585.9 347.1l1.9 1.9l-1.9 1.9l-1.9-1.9z"/><path d="M592.5 346.0l1.9 1.9l-1.9 1.9l-1.9-1.9z"/><path d="M599.1 346.0l1.9 1.9l-1.9 1.9l-1.9-1.9z"/><path d="M605.7 342.8l1.9 1.9l-1.9 1.9l-1.9-1.9z"/><path d="M612.2 341.1l1.9 1.9l-1.9 1.9l-1.9-1.9z"/><path d="M618.8 339.5l1.9 1.9l-1.9 1.9l-1.9-1.9z"/><path d="M625.4 338.3l1.9 1.9l-1.9 1.9l-1.9-1.9z"/><path d="M632.0 338.0l1.9 1.9l-1.9 1.9l-1.9-1.9z"/><path d="M638.5 336.8l1.9 1.9l-1.9 1.9l-1.9-1.9z"/><path d="M645.1 335.1l1.9 1.9l-1.9 1.9l-1.9-1.9z"/><path d="M651.7 333.9l1.9 1.9l-1.9 1.9l-1.9-1.9z"/><path d="M658.3 333.0l1.9 1.9l-1.9 1.9l-1.9-1.9z"/><path d="M664.9 332.0l1.9 1.9l-1.9 1.9l-1.9-1.9z"/><path d="M671.4 331.0l1.9 1.9l-1.9 1.9l-1.9-1.9z"/><path d="M678.0 329.6l1.9 1.9l-1.9 1.9l-1.9-1.9z"/><path d="M684.6 328.9l1.9 1.9l-1.9 1.9l-1.9-1.9z"/><path d="M691.2 327.9l1.9 1.9l-1.9 1.9l-1.9-1.9z"/><path d="M697.7 327.2l1.9 1.9l-1.9 1.9l-1.9-1.9z"/><path d="M704.3 326.2l1.9 1.9l-1.9 1.9l-1.9-1.9z"/><path d="M710.9 325.7l1.9 1.9l-1.9 1.9l-1.9-1.9z"/><path d="M717.5 325.5l1.9 1.9l-1.9 1.9l-1.9-1.9z"/><path d="M724.0 325.2l1.9 1.9l-1.9 1.9l-1.9-1.9z"/><path d="M730.6 324.4l1.9 1.9l-1.9 1.9l-1.9-1.9z"/><path d="M737.2 322.9l1.9 1.9l-1.9 1.9l-1.9-1.9z"/><path d="M743.8 322.2l1.9 1.9l-1.9 1.9l-1.9-1.9z"/><path d="M750.4 320.2l1.9 1.9l-1.9 1.9l-1.9-1.9z"/><path d="M756.9 319.4l1.9 1.9l-1.9 1.9l-1.9-1.9z"/><path d="M763.5 319.1l1.9 1.9l-1.9 1.9l-1.9-1.9z"/><path d="M770.1 319.1l1.9 1.9l-1.9 1.9l-1.9-1.9z"/><path d="M776.7 318.6l1.9 1.9l-1.9 1.9l-1.9-1.9z"/><path d="M783.2 316.1l1.9 1.9l-1.9 1.9l-1.9-1.9z"/><path d="M789.8 315.6l1.9 1.9l-1.9 1.9l-1.9-1.9z"/><path d="M796.4 314.8l1.9 1.9l-1.9 1.9l-1.9-1.9z"/><path d="M803.0 313.7l1.9 1.9l-1.9 1.9l-1.9-1.9z"/><path d="M809.5 313.0l1.9 1.9l-1.9 1.9l-1.9-1.9z"/><path d="M816.1 312.0l1.9 1.9l-1.9 1.9l-1.9-1.9z"/><path d="M822.7 311.7l1.9 1.9l-1.9 1.9l-1.9-1.9z"/><path d="M829.3 310.7l1.9 1.9l-1.9 1.9l-1.9-1.9z"/><path d="M835.9 310.4l1.9 1.9l-1.9 1.9l-1.9-1.9z"/><path d="M842.4 309.9l1.9 1.9l-1.9 1.9l-1.9-1.9z"/><path d="M849.0 309.3l1.9 1.9l-1.9 1.9l-1.9-1.9z"/><path d="M855.6 308.0l1.9 1.9l-1.9 1.9l-1.9-1.9z"/><path d="M862.2 307.6l1.9 1.9l-1.9 1.9l-1.9-1.9z"/><path d="M868.7 307.5l1.9 1.9l-1.9 1.9l-1.9-1.9z"/><path d="M875.3 306.7l1.9 1.9l-1.9 1.9l-1.9-1.9z"/><path d="M881.9 306.0l1.9 1.9l-1.9 1.9l-1.9-1.9z"/><path d="M888.5 303.1l1.9 1.9l-1.9 1.9l-1.9-1.9z"/><path d="M895.0 302.7l1.9 1.9l-1.9 1.9l-1.9-1.9z"/><path d="M901.6 302.7l1.9 1.9l-1.9 1.9l-1.9-1.9z"/><path d="M908.2 299.5l1.9 1.9l-1.9 1.9l-1.9-1.9z"/><path d="M914.8 298.1l1.9 1.9l-1.9 1.9l-1.9-1.9z"/><path d="M921.4 296.4l1.9 1.9l-1.9 1.9l-1.9-1.9z"/><path d="M927.9 294.6l1.9 1.9l-1.9 1.9l-1.9-1.9z"/><path d="M934.5 293.0l1.9 1.9l-1.9 1.9l-1.9-1.9z"/><path d="M941.1 291.3l1.9 1.9l-1.9 1.9l-1.9-1.9z"/><path d="M947.7 289.9l1.9 1.9l-1.9 1.9l-1.9-1.9z"/><path d="M954.2 288.1l1.9 1.9l-1.9 1.9l-1.9-1.9z"/><path d="M960.8 287.3l1.9 1.9l-1.9 1.9l-1.9-1.9z"/><path d="M967.4 285.7l1.9 1.9l-1.9 1.9l-1.9-1.9z"/><path d="M974.0 285.0l1.9 1.9l-1.9 1.9l-1.9-1.9z"/><path d="M980.5 283.7l1.9 1.9l-1.9 1.9l-1.9-1.9z"/><path d="M987.1 282.4l1.9 1.9l-1.9 1.9l-1.9-1.9z"/><path d="M993.7 281.2l1.9 1.9l-1.9 1.9l-1.9-1.9z"/><path d="M1000.3 280.3l1.9 1.9l-1.9 1.9l-1.9-1.9z"/><path d="M1006.9 279.3l1.9 1.9l-1.9 1.9l-1.9-1.9z"/><path d="M1013.4 278.8l1.9 1.9l-1.9 1.9l-1.9-1.9z"/><path d="M1020.0 278.3l1.9 1.9l-1.9 1.9l-1.9-1.9z"/><path d="M1026.6 277.3l1.9 1.9l-1.9 1.9l-1.9-1.9z"/><path d="M1033.2 276.3l1.9 1.9l-1.9 1.9l-1.9-1.9z"/><path d="M1039.7 276.1l1.9 1.9l-1.9 1.9l-1.9-1.9z"/><path d="M1046.3 275.7l1.9 1.9l-1.9 1.9l-1.9-1.9z"/><path d="M1052.9 275.3l1.9 1.9l-1.9 1.9l-1.9-1.9z"/><path d="M1059.5 275.2l1.9 1.9l-1.9 1.9l-1.9-1.9z"/><path d="M1066.0 274.6l1.9 1.9l-1.9 1.9l-1.9-1.9z"/><path d="M1072.6 274.6l1.9 1.9l-1.9 1.9l-1.9-1.9z"/></g>
<text x="328" y="215.4" text-anchor="end" class="yl">60%</text>
<text x="328" y="276.1" text-anchor="end" class="yl">40%</text>
<text x="328" y="336.8" text-anchor="end" class="yl">20%</text>
<text x="328" y="397.5" text-anchor="end" class="yl">0%</text>
<text x="328" y="458.2" text-anchor="end" class="yl">-20%</text>
<text x="336.0" y="481" text-anchor="middle" class="xl">May 21, '21</text>
<text x="480.7" y="481" text-anchor="middle" class="xl">Jun 22, '21</text>
<text x="625.4" y="481" text-anchor="middle" class="xl">Jul 22, '21</text>
<text x="770.1" y="481" text-anchor="middle" class="xl">Aug 24, '21</text>
<text x="914.8" y="481" text-anchor="middle" class="xl">Sep 24, '21</text>
<text x="1076.5" y="481" text-anchor="end" class="xl">Oct 26, '21</text>
<line x1="517" x2="533" y1="509.5" y2="509.5" stroke="#f5d04a" stroke-width="1.2"/><circle cx="525" cy="509.5" r="1.5" fill="#f2b90f"/>
<text x="538" y="513" class="xl" style="fill:#333">Equity Growth</text>
<line x1="697" x2="713" y1="509.5" y2="509.5" stroke="#e2514b" stroke-width="1.3"/><path d="M705 507l2.5 2.5l-2.5 2.5l-2.5-2.5z" fill="#d93a36"/>
<text x="718.5" y="513" class="xl" style="fill:#333">Growth</text>
</svg>

<div class="t" style="left:12.98px;top:6.50px;font-size:23.5px;transform:scaleX(1.0195);color:#333;-webkit-text-stroke:0.7px #333;">Hamza elmajdouby</div>
<div class="t ul" style="left:41.16px;top:51.00px;font-size:15px;transform:scaleX(0.9413);color:#333;">hamzamajdouby693</div>
<div class="t" style="left:178.09px;top:52.00px;font-size:14.3px;transform:scaleX(0.9123);color:#333;">Real (USD),</div>
<div class="t ul" style="left:250.51px;top:52.00px;font-size:14.3px;transform:scaleX(0.9858);color:#333;">IC Markets</div>
<div class="t" style="left:321.55px;top:52.00px;font-size:14.3px;transform:scaleX(0.9538);color:#333;">, 1:500 , MetaTrader 4</div>
<div class="t" style="left:42.90px;top:94.80px;font-size:13.4px;transform:scaleX(0.9554);color:#333;">Track record</div>
<div class="t" style="left:173.70px;top:94.80px;font-size:13.4px;transform:scaleX(0.9602);color:#333;">Trading privileges</div>
<div class="t" style="left:333.43px;top:94.80px;font-size:13.4px;transform:scaleX(0.9676);color:#333;">Live update</div>
<div class="t" style="left:460.20px;top:94.80px;font-size:13.4px;transform:scaleX(0.9323);color:#333;">Cashback</div>
<div class="t" style="left:795.33px;top:15.30px;font-size:13.5px;transform:scaleX(0.9655);color:#555;">Discuss</div>
<div class="t" style="left:892.30px;top:15.30px;font-size:13.5px;transform:scaleX(0.9638);color:#555;">Watch</div>
<div class="t" style="left:981.20px;top:15.30px;font-size:13.5px;transform:scaleX(0.9516);color:#555;">Custom Analysis</div>
<div class="t" style="left:991.00px;top:95.80px;font-size:13px;transform:scaleX(0.9134);color:#fff;font-weight:bold;">Subscribe</div>
<div class="t" style="left:26.95px;top:161.00px;font-size:14.1px;transform:scaleX(1.0543);color:#333;-webkit-text-stroke:0.35px #333;">Info</div>
<div class="t" style="left:75.90px;top:161.00px;font-size:14.1px;transform:scaleX(0.9760);color:#333;">Stats</div>
<div class="t" style="left:130.80px;top:161.00px;font-size:14.1px;transform:scaleX(0.9338);color:#333;">General</div>
<div class="t" style="left:300.20px;top:161.00px;font-size:14.1px;transform:scaleX(0.9726);color:#333;-webkit-text-stroke:0.35px #333;">Chart</div>
<div class="t" style="left:357.80px;top:161.00px;font-size:14.1px;transform:scaleX(0.9913);color:#333;">Growth</div>
<div class="t" style="left:425.02px;top:161.00px;font-size:14.1px;transform:scaleX(0.9782);color:#333;">Balance</div>
<div class="t" style="left:497.59px;top:161.00px;font-size:14.1px;transform:scaleX(1.0132);color:#333;">Profit</div>
<div class="t" style="left:554.50px;top:161.00px;font-size:14.1px;transform:scaleX(0.9963);color:#333;">Drawdown</div>
<div class="t" style="left:643.68px;top:161.00px;font-size:14.1px;transform:scaleX(1.0184);color:#333;">Margin</div>
<div class="t" style="left:699.80px;top:165.00px;font-size:10px;transform:scaleX(1.0345);color:#fff;font-weight:bold;">New</div>
<div class="t dot" style="left:21.90px;top:192.80px;font-size:12.8px;transform:scaleX(0.8361);color:#333;font-weight:bold;">Gain :</div>
<div class="t" style="left:215.60px;top:195.70px;font-size:12.8px;transform:scaleX(0.8952);color:#2da84a;font-weight:bold;">+38.87%</div>
<div class="t dot" style="left:22.20px;top:218.70px;font-size:12.8px;transform:scaleX(0.8971);color:#333;">Abs. Gain:</div>
<div class="t" style="left:216.80px;top:221.70px;font-size:12.8px;transform:scaleX(0.8892);color:#2da84a;">+34.37%</div>
<div class="t dot" style="left:21.10px;top:255.80px;font-size:12.8px;transform:scaleX(0.8986);color:#333;">Daily</div>
<div class="t" style="left:230.00px;top:259.10px;font-size:12.8px;transform:scaleX(0.8801);color:#333;">0.02%</div>
<div class="t dot" style="left:21.04px;top:282.20px;font-size:12.8px;transform:scaleX(0.9592);color:#333;">Monthly:</div>
<div class="t" style="left:230.20px;top:284.80px;font-size:12.8px;transform:scaleX(0.8745);color:#333;">6.33%</div>
<div class="t" style="left:21.07px;top:308.70px;font-size:12.8px;transform:scaleX(0.9335);color:#333;">Drawdown:</div>
<div class="t" style="left:223.50px;top:308.80px;font-size:12.8px;transform:scaleX(0.8856);color:#333;">39.42%</div>
<div class="t" style="left:21.28px;top:340.75px;font-size:12.8px;transform:scaleX(0.9224);color:#333;">Balance:</div>
<div class="t" style="left:203.00px;top:340.75px;font-size:12.8px;transform:scaleX(0.9350);color:#333;">$11,011.41</div>
<div class="t" style="left:21.28px;top:361.75px;font-size:12.8px;transform:scaleX(0.9184);color:#333;">Equity:</div>
<div class="t" style="left:164.00px;top:363.50px;font-size:11.6px;transform:scaleX(0.8902);color:#333;">(61.87%)</div>
<div class="t" style="left:209.70px;top:361.75px;font-size:12.8px;transform:scaleX(0.9030);color:#333;">$6,812.38</div>
<div class="t" style="left:21.25px;top:382.75px;font-size:12.8px;transform:scaleX(0.9496);color:#333;">Highest:</div>
<div class="t" style="left:159.50px;top:384.50px;font-size:11.6px;transform:scaleX(0.8967);color:#9a9a9a;">(Sep 01)</div>
<div class="t" style="left:203.00px;top:382.75px;font-size:12.8px;transform:scaleX(0.9209);color:#333;">$11,309.99</div>
<div class="t" style="left:21.23px;top:403.75px;font-size:12.8px;transform:scaleX(0.9665);color:#333;">Profit:</div>
<div class="t" style="left:209.80px;top:403.75px;font-size:12.8px;transform:scaleX(0.9100);color:#2da84a;">$3,446.90</div>
<div class="t" style="left:21.25px;top:424.75px;font-size:12.8px;transform:scaleX(0.9490);color:#333;">Interest:</div>
<div class="t" style="left:232.40px;top:424.75px;font-size:12.8px;transform:scaleX(0.9120);color:#333;">$0.00</div>
<div class="t" style="left:21.26px;top:457.75px;font-size:12.8px;transform:scaleX(0.9423);color:#333;">Deposits:</div>
<div class="t" style="left:202.90px;top:457.75px;font-size:12.8px;transform:scaleX(0.9166);color:#333;">$10,029.42</div>
<div class="t" style="left:22.20px;top:478.75px;font-size:12.8px;transform:scaleX(0.9259);color:#333;">Withdrawals:</div>
<div class="t" style="left:209.80px;top:478.75px;font-size:12.8px;transform:scaleX(0.9100);color:#333;">$2,464.91</div>
<div class="t" style="left:22.20px;top:510.75px;font-size:12.8px;transform:scaleX(0.8951);color:#333;">Updated</div>
<div class="t" style="left:148.70px;top:510.75px;font-size:12.8px;transform:scaleX(0.9149);color:#333;">Oct 28, 2021 at 14:31</div>
<div class="t" style="left:22.20px;top:531.75px;font-size:12.8px;transform:scaleX(0.9200);color:#333;">Tracking</div>
<div class="t" style="left:254.70px;top:531.75px;font-size:12.8px;transform:scaleX(1.0000);color:#333;">0</div>
<div class="t" style="left:878.18px;top:522.40px;font-size:25.4px;transform:scaleX(1.0198);color:#b3b3b3;font-weight:bold;">mt4systems.com</div>

</body>
</html>
